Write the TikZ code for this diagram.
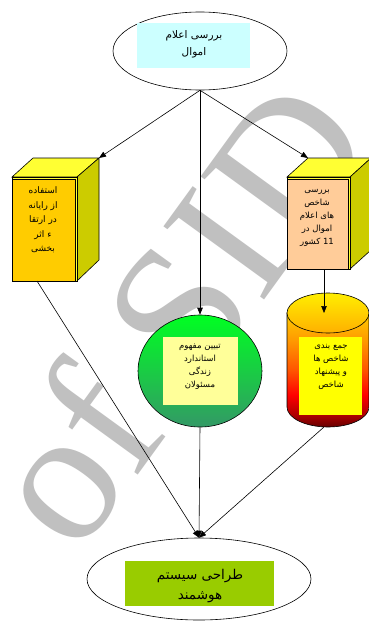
\documentclass[tikz,border=0pt]{standalone}
\usepackage{fontspec}
\setmainfont{DejaVu Sans}
\newfontfamily\arabicfont[Script=Arabic]{DejaVu Sans}
\newfontfamily\wmfont{Liberation Serif}
\TeXXeTstate=1
\usetikzlibrary{shapes.geometric,arrows.meta}
\definecolor{cyanbox}{HTML}{CCFFFF}
\definecolor{goldf}{HTML}{FFCC00}
\definecolor{topy}{HTML}{FFFF33}
\definecolor{sideo}{HTML}{CCCC00}
\definecolor{peach}{HTML}{FFCC99}
\definecolor{lightyel}{HTML}{FFFF99}
\definecolor{yelbox}{HTML}{FFFF00}
\definecolor{greenbox}{HTML}{99CC00}
\definecolor{cgreenT}{HTML}{00FF22}
\definecolor{cgreenB}{HTML}{339966}
\definecolor{cylT}{HTML}{FFCC00}
\definecolor{cylO}{HTML}{FF9900}
\definecolor{cylR1}{HTML}{FF5500}
\definecolor{cylR}{HTML}{FF0000}
\definecolor{cylD1}{HTML}{AA0000}
\definecolor{cylD}{HTML}{660000}
\definecolor{cylTopT}{HTML}{FFEE00}
\definecolor{cylTopB}{HTML}{FFB000}
\definecolor{wmgray}{HTML}{C0C0C0}
\pgfdeclareverticalshading{cylshade}{100bp}{color(0bp)=(cylD); color(25bp)=(cylD); color(30bp)=(cylD1); color(39bp)=(cylR); color(50bp)=(cylR1); color(63bp)=(cylO); color(75bp)=(cylT); color(100bp)=(cylT)}
\tikzset{
  arr/.style={-{Triangle[length=7pt,width=5.5pt]}},
  txt/.style={font=\arabicfont\fontsize{8.5}{13}\selectfont, align=center, inner sep=0pt},
  face/.style={draw=black, line width=0.6pt}
}
\begin{document}
\begin{tikzpicture}[x=1pt,y=-1pt, line width=0.6pt]
\useasboundingbox (0,0) rectangle (369,621);
\clip (0,0) rectangle (369,621);
\fill[white] (0,0) rectangle (369,621);

% watermark
\node[rotate=54, text=wmgray, font=\wmfont\fontsize{190}{190}\selectfont, inner sep=0pt] (wm) at (175,312) {of SID};

% top ellipse
\node[draw, ellipse, fill=white, minimum width=174pt, minimum height=78pt, inner sep=0pt] (top) at (200,51) {};
\node[fill=cyanbox, minimum width=113pt, minimum height=45pt, inner sep=0pt] (topbox) at (193.5,45.5) {};
\node[txt, font=\arabicfont\fontsize{10.5}{17}\selectfont] (toptxt) at (194,44) {\beginR بررسی اعلام\endR\\\beginR اموال\endR};

% left 3D box
\filldraw[face, fill=topy] (12,177) -- (33,158) -- (99,158) -- (77,177) -- cycle;
\filldraw[face, fill=sideo] (77,177) -- (99,158) -- (99,260) -- (77,281) -- cycle;
\filldraw[face, fill=topy] (12,177) rectangle (77,281);
\filldraw[face, fill=goldf] (12,179.5) rectangle (75,281);
\coordinate (lbtr) at (99,158);
\coordinate (lbbot) at (37,281);
\node[txt, font=\arabicfont\fontsize{9}{14.5}\selectfont] (lbtxt) at (43,220) {\beginR استفاده\endR\\\beginR از رایانه\endR\\\beginR در ارتقا\endR\\\beginR ء اثر\endR\\\beginR بخشی\endR};

% right 3D box
\filldraw[face, fill=topy] (287,177) -- (308,158) -- (371,158) -- (350,177) -- cycle;
\filldraw[face, fill=sideo] (350,177) -- (371,158) -- (371,250) -- (350,269) -- cycle;
\filldraw[face, fill=topy] (287,177) rectangle (350,269);
\filldraw[face, fill=peach] (287,179.5) rectangle (348,269);
\coordinate (rbtl) at (308,158);
\coordinate (rbbot) at (324,269);
\node[txt] (rbtxt) at (317,217.5) {\beginR بررسی\endR\\\beginR شاخص\endR\\\beginR های اعلام\endR\\\beginR اموال در\endR\\\beginR\beginL 11\endL{} کشور\endR};

% green circle
\node[draw, ellipse, minimum width=124pt, minimum height=112pt, inner sep=0pt, top color=cgreenT, bottom color=cgreenB] (circ) at (200,371) {};
\node[fill=lightyel, minimum width=75pt, minimum height=68pt, inner sep=0pt] (circbox) at (200.5,371) {};
\node[txt] (circtxt) at (200,367) {\beginR تبیین مفهوم\endR\\\beginR استاندارد\endR\\\beginR زندگی\endR\\\beginR مسئولان\endR};

% cylinder
\shade[shading=cylshade, draw=black] (287,313) -- (287,407) arc[start angle=180, end angle=0, x radius=41, y radius=20] -- (369,313) -- cycle;
\node[draw, ellipse, minimum width=82pt, minimum height=40pt, inner sep=0pt, top color=cylTopT, bottom color=cylTopB] (cyl) at (328,313) {};
\node[fill=yelbox, minimum width=63pt, minimum height=78pt, inner sep=0pt] (cylbox) at (330.5,376) {};
\node[txt] (cyltxt) at (331,367) {\beginR جمع بندی\endR\\\beginR شاخص ها\endR\\\beginR و پیشنهاد\endR\\\beginR شاخص\endR};
\coordinate (cyltop) at (324,313);
\coordinate (cylbot) at (324,427);

% bottom ellipse
\node[draw, ellipse, fill=white, minimum width=224pt, minimum height=82pt, inner sep=0pt] (bot) at (199,579) {};
\node[fill=greenbox, minimum width=149pt, minimum height=45pt, inner sep=0pt] (botbox) at (199.5,583.5) {};
\node[txt, font=\arabicfont\fontsize{13.5}{20}\selectfont] (bottxt) at (200,586) {\beginR طراحی سیستم\endR\\\beginR هوشمند\endR};

% connectors
\draw[arr] (top.south) -- (lbtr);
\draw[arr] (top.south) -- (circ.north);
\draw[arr] (top.south) -- (rbtl);
\draw[arr] (rbbot) -- (cyltop);
\draw[arr] (lbbot) -- (bot.north);
\draw[arr] (circ.south) -- (bot.north);
\draw[arr] (cylbot) -- (bot.north);
\end{tikzpicture}
\end{document}
